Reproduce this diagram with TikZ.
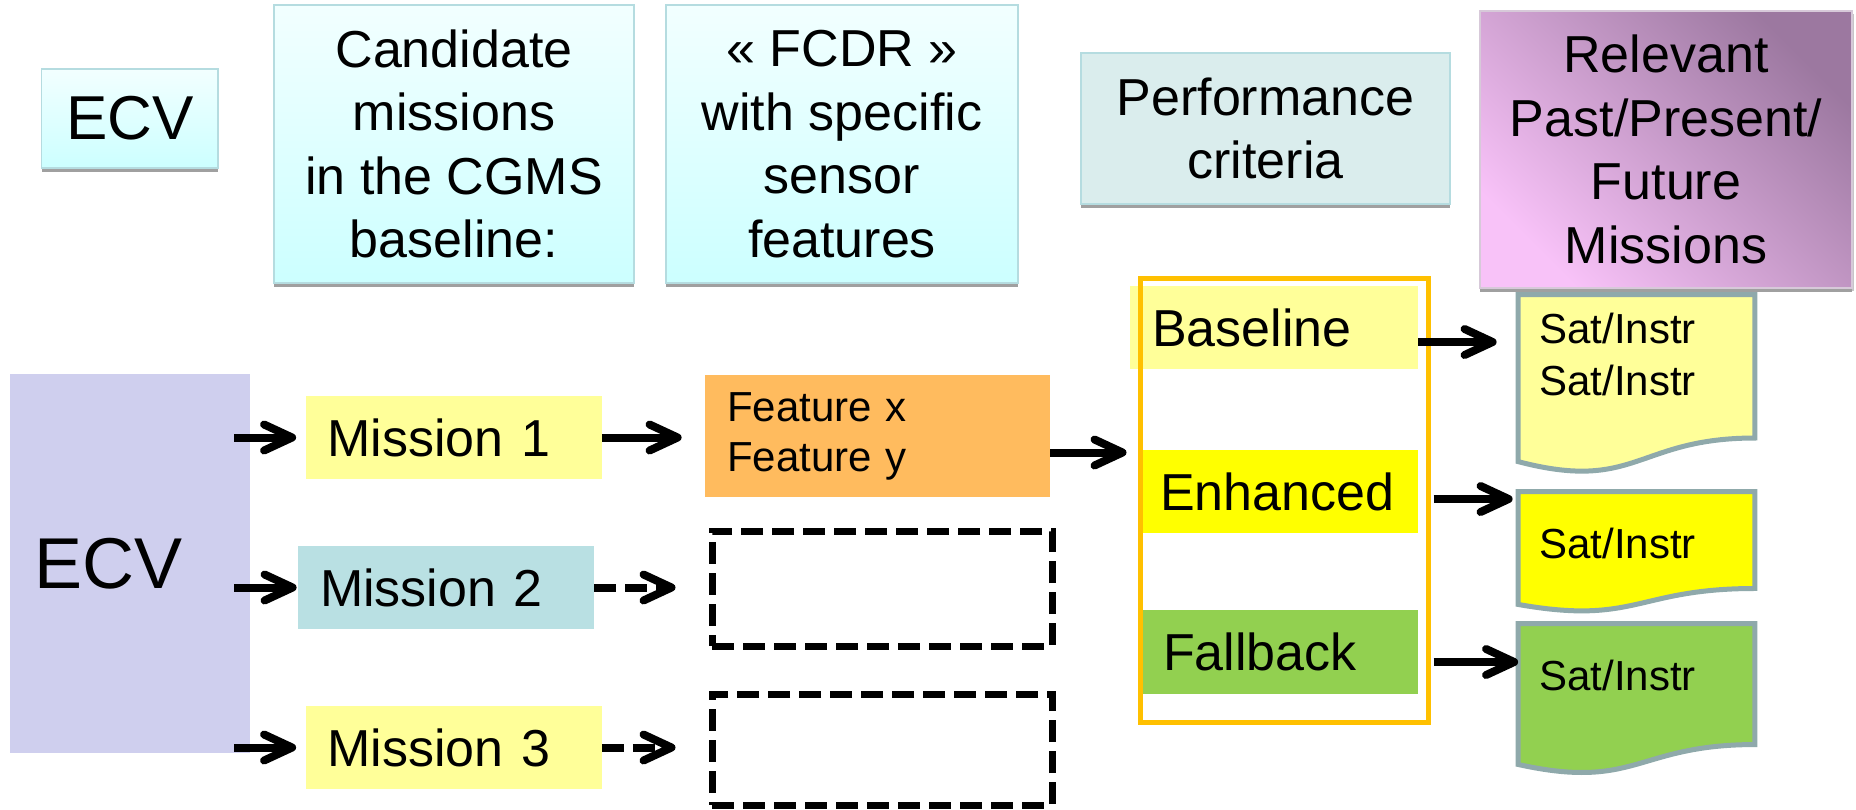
\documentclass[tikz,border=0pt]{standalone}
\usepackage{fontspec}
\setmainfont{Liberation Sans}
\usetikzlibrary{arrows.meta,calc,shadows}

\definecolor{hdrtop}{HTML}{F2FFFF}
\definecolor{hdrbot}{HTML}{CCFFFF}
\definecolor{hdrline}{HTML}{B5DCE0}
\definecolor{shadowgrey}{HTML}{A0A0A0}
\definecolor{perffill}{HTML}{DAEDED}
\definecolor{relevdark}{HTML}{9C78A0}
\definecolor{relevmid}{HTML}{D8A6D8}
\definecolor{relevlight}{HTML}{F8C2F8}
\definecolor{lavender}{HTML}{CFCFEE}
\definecolor{paleyellow}{HTML}{FFFF99}
\definecolor{paleteal}{HTML}{B9E0E3}
\definecolor{featorange}{HTML}{FFBB5E}
\definecolor{frameorange}{HTML}{FFC000}
\definecolor{brightyellow}{HTML}{FFFF00}
\definecolor{leafgreen}{HTML}{92D050}
\definecolor{docgrey}{HTML}{8FA9AB}

\tikzset{
  hdr/.style={draw=hdrline, line width=0.6pt, top color=hdrtop, bottom color=hdrbot,
    align=center, inner sep=0pt, font=\fontsize{26}{31.8}\selectfont,
    drop shadow={shadow xshift=0pt, shadow yshift=-2pt, fill=shadowgrey, opacity=1}},
  mission/.style={minimum height=41.5pt, inner xsep=11pt, inner ysep=0pt,
    text width=126pt, align=left, font=\fontsize{26}{31}\selectfont},
  tier/.style={minimum height=41.5pt, inner ysep=0pt, align=left,
    font=\fontsize{26}{31}\selectfont},
  satlbl/.style={inner sep=0pt, align=left, font=\fontsize{21}{26}\selectfont},
  nofeat/.style={draw, line width=3.5pt, dash pattern=on 11pt off 4.5pt,
    minimum width=170pt},
  docbox/.style={minimum width=118pt, inner sep=0pt},
  docline/.style={draw=docgrey, line width=2.5pt},
  arr/.style={line width=4pt, -{Straight Barb[length=14pt,width=13pt,round]}},
  darr/.style={arr, dash pattern=on 11pt off 4.5pt},
}

\begin{document}
\begin{tikzpicture}[x=0.5pt, y=-0.5pt]
\useasboundingbox (0,0) rectangle (1856,809);

% top row
\node[hdr, minimum width=88.25pt, minimum height=49.5pt, font=\fontsize{31}{36}\selectfont] (ecvhdr) at (129.75,118.5) {ECV};
\node[hdr, minimum width=180pt, minimum height=139pt] (cand) at (454,144) {Candidate\\missions\\in the CGMS\\baseline:};
\node[hdr, minimum width=176pt, minimum height=139pt] (fcdr) at (842,144) {« FCDR »\\with specific\\sensor\\features};
\node[hdr, top color=perffill, bottom color=perffill, minimum width=184.5pt, minimum height=75.5pt] (perf) at (1265.5,128.5) {Performance\\criteria};
\node[hdr, draw=relevdark!40, top color=relevdark, middle color=relevmid, bottom color=relevlight, shading angle=-45,
  drop shadow={shadow xshift=1pt, shadow yshift=-1.5pt, fill=shadowgrey, opacity=0.6},
  minimum width=186pt, minimum height=138.5pt] (relev) at (1666,149.5) {Relevant\\Past/Present/\\Future\\Missions};

% missions
\node[fill=lavender, minimum height=189.5pt, inner xsep=12pt, text width=96pt, align=left,
  font=\fontsize{36}{40}\selectfont] (ecv) at (130,563.5) {ECV};
\node[mission, fill=paleyellow] (m1) at (453.5,437.5) {Mission 1};
\node[mission, fill=paleteal] (m2) at (446,587.5) {Mission 2};
\node[mission, fill=paleyellow] (m3) at (453.5,747.5) {Mission 3};

\node[fill=featorange, minimum height=61pt, inner xsep=11pt, text width=150.5pt, align=left,
  font=\fontsize{21}{25}\selectfont] (feat) at (877.5,436) {Feature x\\Feature y};
\node[nofeat, minimum height=57.5pt] (nofeat1) at (882,588.5) {};
\node[nofeat, minimum height=55.5pt] (nofeat2) at (882,749.5) {};

% criteria
\node[tier, fill=paleyellow, inner xsep=11pt, text width=122pt] (base) at (1274,327.5) {Baseline};
\node[tier, fill=brightyellow, inner xsep=8.5pt, text width=120.5pt] (enh) at (1280.5,491.5) {Enhanced};
\node[tier, fill=leafgreen, inner xsep=10pt, text width=117.5pt, minimum height=42pt] (fb) at (1280.5,652) {Fallback};
\node[draw=frameorange, line width=2.5pt, minimum width=143.75pt, minimum height=222pt] (frame) at (1284.25,500) {};

% satellite documents
\node[docbox, minimum height=89pt] (doc1) at (1636.5,384) {};
\node[docbox, minimum height=60pt] (doc2) at (1636.5,552) {};
\node[docbox, minimum height=75pt] (doc3) at (1636.5,699) {};
\foreach \d/\c in {doc1/paleyellow, doc2/brightyellow, doc3/leafgreen}
  \draw[docline, fill=\c] (\d.north west) -- (\d.north east)
    -- ($(\d.north east)!0.802!(\d.south east)$)
    .. controls ($(\d.north)!0.802!(\d.south)$) and ($(\d.north)!1.1075!(\d.south)$)
    .. ($(\d.north west)!0.934!(\d.south west)$) -- cycle;
\node[satlbl, anchor=north west] (sat1) at (1539,313) {Sat/Instr\\Sat/Instr};
\node[satlbl, anchor=base west] (sat2) at (1539,558) {Sat/Instr};
\node[satlbl, anchor=base west] (sat3) at (1539,690) {Sat/Instr};

\draw[arr] ([xshift=-8pt]ecv.east |- m1.west) -- ([xshift=-4.5pt]m1.west);
\draw[arr] ([xshift=-8pt]ecv.east |- m2.west) -- ([xshift=-0.5pt]m2.west);
\draw[arr] ([xshift=-8pt]ecv.east |- m3.west) -- ([xshift=-4.5pt]m3.west);
\draw[arr] (m1.east) -- ([xshift=-11.5pt]m1.east -| feat.west);
\draw[darr] (m2.east) -- ([xshift=-16.5pt]m2.east -| nofeat1.west);
\draw[darr] (m3.east) -- ([xshift=-16.5pt]m3.east -| nofeat2.west);
\draw[arr] ([yshift=-8.25pt]feat.east) -- ([xshift=-5.75pt,yshift=-8.25pt]feat.east -| frame.west);
\draw[arr] ([yshift=-7.25pt]base.east) -- ([xshift=-10.75pt,yshift=-7.25pt]base.east -| doc1.west);
\draw[arr] ([xshift=1.5pt,yshift=-3.75pt]enh.east -| frame.east) -- ([xshift=-2.75pt,yshift=-3.75pt]enh.east -| doc2.west);
\draw[arr] ([xshift=1.5pt,yshift=-5pt]fb.east -| frame.east) -- ([yshift=-5pt]fb.east -| doc3.west);

\end{tikzpicture}
\end{document}
